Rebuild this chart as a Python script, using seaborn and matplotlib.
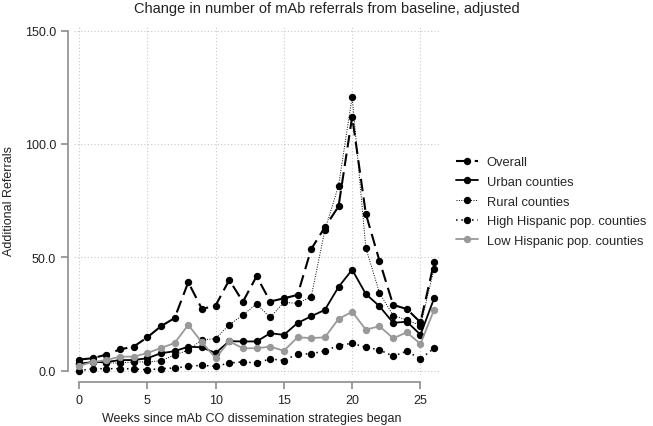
"""
Change in number of mAb referrals from baseline, adjusted
"""
import matplotlib
matplotlib.use("Agg")
import matplotlib.pyplot as plt
import numpy as np
import pandas as pd
import seaborn as sns

# ---------------------------------------------------------------------------
# Data
# ---------------------------------------------------------------------------
weeks = list(range(27))

overall = [5.0, 5.6, 7.2, 9.5, 10.7, 14.8, 19.7, 23.3, 39.1, 27.3, 28.8, 40.1, 30.5, 41.7,
           30.6, 32.0, 33.5, 53.7, 63.3, 72.5, 112.0, 69.2, 48.5, 29.1, 27.3, 21.4, 48.0]
urban = [3.1, 3.9, 3.9, 4.8, 4.8, 5.6, 7.8, 8.7, 10.7, 10.4, 7.9, 13.1, 13.0, 13.0,
         16.6, 15.9, 21.1, 24.1, 26.9, 37.0, 44.6, 33.9, 28.5, 21.2, 21.7, 16.0, 32.0]
rural = [3.5, 4.0, 3.5, 3.5, 4.0, 4.0, 4.5, 7.0, 9.2, 13.7, 14.2, 20.3, 24.7, 29.5,
         23.6, 30.2, 29.8, 32.7, 62.0, 81.6, 120.8, 54.2, 34.4, 24.4, 22.5, 20.0, 45.0]
high_hisp = [0.1, 1.0, 1.0, 1.0, 0.9, 0.5, 1.0, 1.3, 2.0, 2.5, 2.0, 3.5, 4.0, 3.5,
             5.3, 4.6, 7.5, 7.5, 8.9, 11.2, 12.2, 10.4, 9.3, 6.5, 8.7, 5.3, 10.0]
low_hisp = [2.3, 3.9, 4.8, 6.3, 6.3, 7.9, 10.1, 12.3, 20.3, 12.6, 5.7, 13.0, 10.0, 10.0,
            10.7, 8.9, 14.8, 14.5, 14.8, 22.9, 26.1, 18.2, 19.7, 14.4, 17.0, 11.9, 27.0]

series_names = ["Overall", "Urban counties", "Rural counties",
                "High Hispanic pop. counties", "Low Hispanic pop. counties"]
series_values = [overall, urban, rural, high_hisp, low_hisp]

x_ticks = [0, 5, 10, 15, 20, 25]
y_ticks = [0, 50, 100, 150]
y_ticklabels = ["0.0", "50.0", "100.0", "150.0"]

# styles: (color, linestyle, linewidth)
styles = {
    "Overall": ("black", (0, (6, 3)), 1.5),
    "Urban counties": ("black", "-", 1.3),
    "Rural counties": ("black", (0, (1, 1.5)), 0.7),
    "High Hispanic pop. counties": ("black", (0, (1, 2.5)), 1.1),
    "Low Hispanic pop. counties": ("#999999", "-", 1.3),
}

df = pd.DataFrame({
    "week": weeks * len(series_names),
    "value": np.concatenate(series_values),
    "series": np.repeat(series_names, len(weeks)),
})

# ---------------------------------------------------------------------------
# Plot
# ---------------------------------------------------------------------------
sns.set_style("white")
plt.rcParams["font.family"] = ["Liberation Sans", "DejaVu Sans"]

fig = plt.figure(figsize=(6.53, 4.27), dpi=100)
ax = fig.add_axes([0.1126, 0.1183, 0.5606, 0.8185])

for name in series_names:
    color, ls, lw = styles[name]
    sub = df[df["series"] == name]
    sns.lineplot(data=sub, x="week", y="value", ax=ax, color=color,
                 linestyle=ls, linewidth=lw, marker="o", markersize=5.3,
                 markeredgewidth=0, markerfacecolor=color, label=name,
                 clip_on=False, zorder=3)

ax.set_xlim(-0.4, 26.4)
ax.set_ylim(-2, 152)
ax.set_xticks(x_ticks)
ax.set_yticks(y_ticks)
ax.set_yticklabels(y_ticklabels)
ax.set_xlabel("")
ax.set_ylabel("")

ax.grid(True, linestyle=(0, (1, 2)), color="#c8c8c8", linewidth=0.8)
ax.set_axisbelow(True)

for side in ["top", "right"]:
    ax.spines[side].set_visible(False)
ax.spines["left"].set_position(("outward", 4))
ax.spines["bottom"].set_position(("outward", 5))
ax.spines["left"].set_bounds(0, 150)
ax.spines["bottom"].set_bounds(0, 25)
for side in ["left", "bottom"]:
    ax.spines[side].set_color("#8c8c8c")
    ax.spines[side].set_linewidth(1.2)
ax.tick_params(axis="both", direction="out", length=5, width=1.2, color="#8c8c8c",
               labelsize=9, labelcolor="#222222", left=True, bottom=True)

handles, labels = ax.get_legend_handles_labels()
ax.legend(handles, labels, loc="upper left", bbox_to_anchor=(1.014, 0.66),
          frameon=False, fontsize=9.3, handlelength=1.7, labelspacing=0.58,
          handletextpad=0.65)

fig.text(0.5, 0.979, "Change in number of mAb referrals from baseline, adjusted",
         ha="center", va="center", fontsize=10.5, color="#222222")
fig.text(0.385, 0.018, "Weeks since mAb CO dissemination strategies began",
         ha="center", va="center", fontsize=9, color="#222222")
fig.text(0.014, 0.53, "Additional Referrals", rotation=90,
         ha="center", va="center", fontsize=9, color="#222222")

fig.savefig("out.png", dpi=100)
plt.close(fig)
